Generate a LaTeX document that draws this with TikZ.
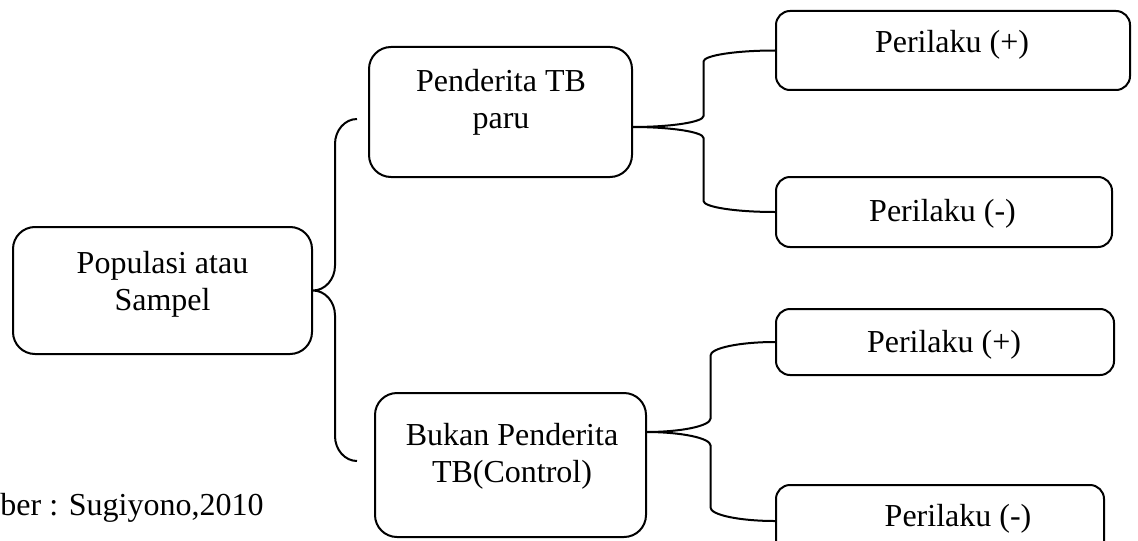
\documentclass[tikz,border=0pt]{standalone}
\usepackage{fontspec}
\setmainfont{Liberation Serif}
\usetikzlibrary{calc}
\tikzset{
box/.style={draw,line width=1pt,rounded corners=11pt,inner sep=0pt},
small box/.style={box,rounded corners=7pt},
lbl/.style={font=\fontsize{16}{18.5}\selectfont,align=center,inner sep=0pt},
arm/.style={to path={let \p1=(\tikztostart),\p2=(\tikztotarget),
  \n1={(\x1+\x2)/2},\n2={\y2>\y1?#1:-#1} in
  .. controls ({\x1+0.55*(\n1-\x1)},\y1) and (\n1,{\y1+0.45*\n2}) .. (\n1,{\y1+\n2})
  -- (\n1,{\y2-\n2})
  .. controls (\n1,{\y2-0.45*\n2}) and ({\x2-0.55*(\x2-\n1)},\y2) .. (\tikztotarget)}}
}
\begin{document}
\begin{tikzpicture}[x=0.5pt,y=-0.5pt]
\clip (0,0) rectangle (1138,540);
% boxes
\node[box,minimum width=149.5pt,minimum height=63.5pt] (pop) at (162.5,290.5) {};
\node[box,minimum width=131.5pt,minimum height=65pt] (pen) at (500.5,112) {};
\node[box,minimum width=135.5pt,minimum height=72pt] (buk) at (510.5,465) {};
\node[small box,minimum width=177pt,minimum height=39.5pt] (d1) at (953,50.5) {};
\node[small box,minimum width=168pt,minimum height=35pt] (d2) at (944,212) {};
\node[small box,minimum width=169pt,minimum height=33pt] (d3) at (945,342) {};
\node[small box,minimum width=164pt,minimum height=36pt] (d4) at (940,521) {};
% texts (base = last line)
\node[lbl,anchor=base] (popT) at (162.5,310) {Populasi atau\\Sampel};
\node[lbl,anchor=base] (penT) at (501,128) {Penderita TB\\paru};
\node[lbl,anchor=base] (bukT) at (512,482) {Bukan Penderita\\TB(Control)};
\node[lbl,anchor=base] (d1T) at (952,53) {Perilaku (+)};
\node[lbl,anchor=base] (d2T) at (942.5,221) {Perilaku (-)};
\node[lbl,anchor=base] (d3T) at (944,352) {Perilaku (+)};
\node[lbl,anchor=base] (d4T) at (958,526) {Perilaku (-)};
\node[lbl,anchor=base west] (src) at (0,515) {ber : Sugiyono,2010};
% braces
\coordinate (bT) at (357,119);
\coordinate (bB) at (357,461);
\coordinate (penTip) at (632,127);
\coordinate (bukTip) at (646,432);
\foreach \tip/\a/\b/\h in {pop.east/bT/bB/12.5pt,penTip/d1.west/d2.west/5.5pt,bukTip/d3.west/d4.west/6.75pt}
  \draw[line width=1pt] (\tip) to[arm=\h] (\a) (\tip) to[arm=\h] (\b);
\end{tikzpicture}
\end{document}
